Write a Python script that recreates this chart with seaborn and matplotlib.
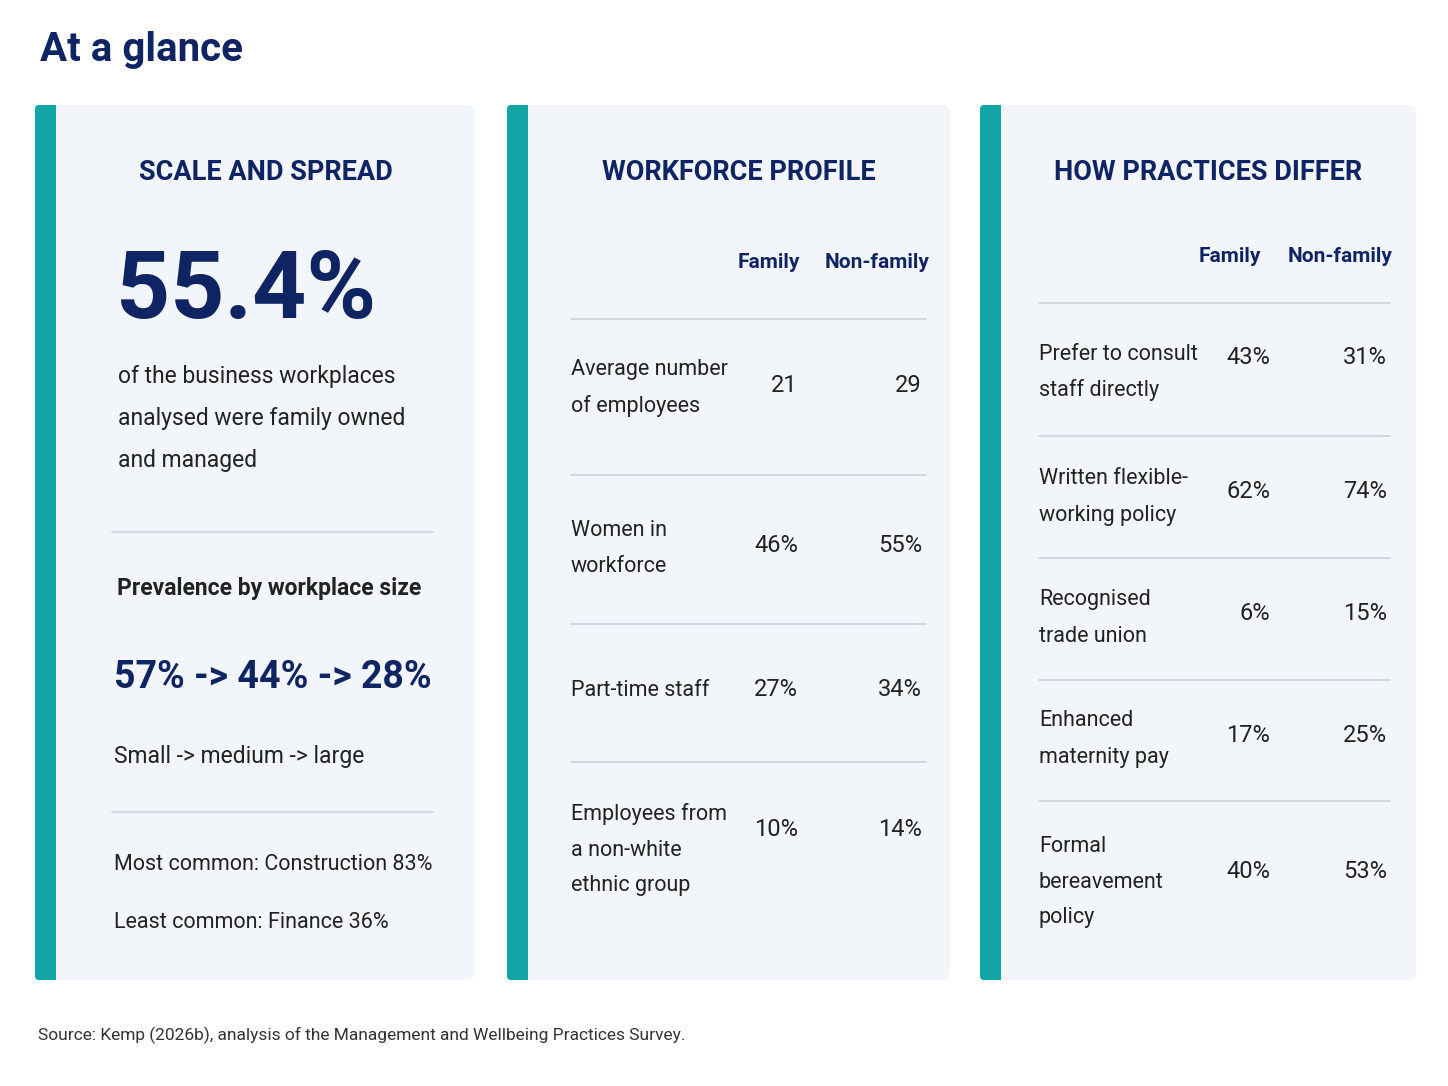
import matplotlib.pyplot as plt
import seaborn as sns
from matplotlib.patches import FancyBboxPatch, Rectangle

# ---- data ----
title = "At a glance"
card_titles = ["SCALE AND SPREAD", "WORKFORCE PROFILE", "HOW PRACTICES DIFFER"]
headline = "55.4%"
headline_text = ["of the business workplaces", "analysed were family owned", "and managed"]
size_title = "Prevalence by workplace size"
size_values = "57% -> 44% -> 28%"
size_labels = "Small -> medium -> large"
sector_notes = ["Most common: Construction 83%", "Least common: Finance 36%"]
col_headers = ["Family", "Non-family"]

profile_labels = [["Average number", "of employees"], ["Women in", "workforce"],
                  ["Part-time staff"], ["Employees from", "a non-white", "ethnic group"]]
profile_family = ["21", "46%", "27%", "10%"]
profile_nonfamily = ["29", "55%", "34%", "14%"]

practice_labels = [["Prefer to consult", "staff directly"], ["Written flexible-", "working policy"],
                   ["Recognised", "trade union"], ["Enhanced", "maternity pay"],
                   ["Formal", "bereavement", "policy"]]
practice_family = ["43%", "62%", "6%", "17%", "40%"]
practice_nonfamily = ["31%", "74%", "15%", "25%", "53%"]
source = "Source: Kemp (2026b), analysis of the Management and Wellbeing Practices Survey."

sns.set_theme(style="white")
plt.rcParams['font.family'] = ['Roboto', 'DejaVu Sans']

NAVY = "#0f2463"
TEAL = "#12a5a5"
CARD = "#f2f5f9"
TXT = "#222222"
LINE = "#c9d3dd"

fig = plt.figure(figsize=(14.48, 10.86), dpi=100)
ax = fig.add_axes([0, 0, 1, 1])
ax.set_xlim(0, 1448)
ax.set_ylim(1086, 0)
ax.axis("off")

ax.text(40, 50, title, fontsize=29, fontweight="bold", color=NAVY, va="center")

cards = [(35, 475), (507, 950), (980, 1416)]
for (x0, x1), t in zip(cards, card_titles):
    ax.add_patch(FancyBboxPatch((x0, 105), x1 - x0, 875, boxstyle="round,pad=0,rounding_size=8",
                                fc=CARD, ec="none"))
    ax.add_patch(FancyBboxPatch((x0, 105), 21, 875, boxstyle="round,pad=0,rounding_size=4",
                                fc=TEAL, ec="none"))
    ax.add_patch(Rectangle((x0 + 12, 105), 9, 875, fc=TEAL, ec="none"))
    ax.text((x0 + 21 + x1) / 2, 172, t, fontsize=19.5, fontweight="bold", color=NAVY,
            ha="center", va="center")

# card 1
ax.text(116, 292, headline, fontsize=68, fontweight="bold", color=NAVY, va="center")
for i, s in enumerate(headline_text):
    ax.text(118, 376 + 42 * i, s, fontsize=16.5, color=TXT, va="center")
ax.plot([112, 433], [532, 532], color=LINE, lw=1.2)
ax.text(117, 588, size_title, fontsize=16.5, fontweight="bold", color=TXT, va="center")
ax.text(114, 677, size_values, fontsize=27, fontweight="bold", color=NAVY, va="center")
ax.text(114, 756, size_labels, fontsize=16.5, color=TXT, va="center")
ax.plot([112, 433], [812, 812], color=LINE, lw=1.2)
for i, s in enumerate(sector_notes):
    ax.text(114, 865 + 57 * i, s, fontsize=15.5, color=TXT, va="center")


def table(hdr_y, hdr_x, lines_y, xl, xr, val_x, labels, fam, nonfam, val_y, lab_y):
    for hx, h in zip(hdr_x, col_headers):
        ax.text(hx, hdr_y, h, fontsize=15, fontweight="bold", color=NAVY, ha="center", va="center")
    for y in lines_y:
        ax.plot([xl, xr], [y, y], color=LINE, lw=1.2)
    for lab, f, n, vy, ly in zip(labels, fam, nonfam, val_y, lab_y):
        for j, s in enumerate(lab):
            ax.text(xl, ly + 36 * j, s, fontsize=15.5, color=TXT, va="center")
        ax.text(val_x[0], vy, f, fontsize=17, color=TXT, ha="right", va="center")
        ax.text(val_x[1], vy, n, fontsize=17, color=TXT, ha="right", va="center")


table(262, [769, 877], [319, 475, 624, 762], 571, 926, [798, 922],
      profile_labels, profile_family, profile_nonfamily,
      [386, 546, 690, 829], [370, 531, 690, 814])
table(256, [1230, 1340], [303, 436, 558, 680, 801], 1039, 1390, [1270, 1387],
      practice_labels, practice_family, practice_nonfamily,
      [358, 492, 613, 735, 871], [354, 479, 600, 721, 846])

ax.text(38, 1035, source, fontsize=12.5, color="#333333", va="center")

fig.savefig("out.png", dpi=100, facecolor="white")
